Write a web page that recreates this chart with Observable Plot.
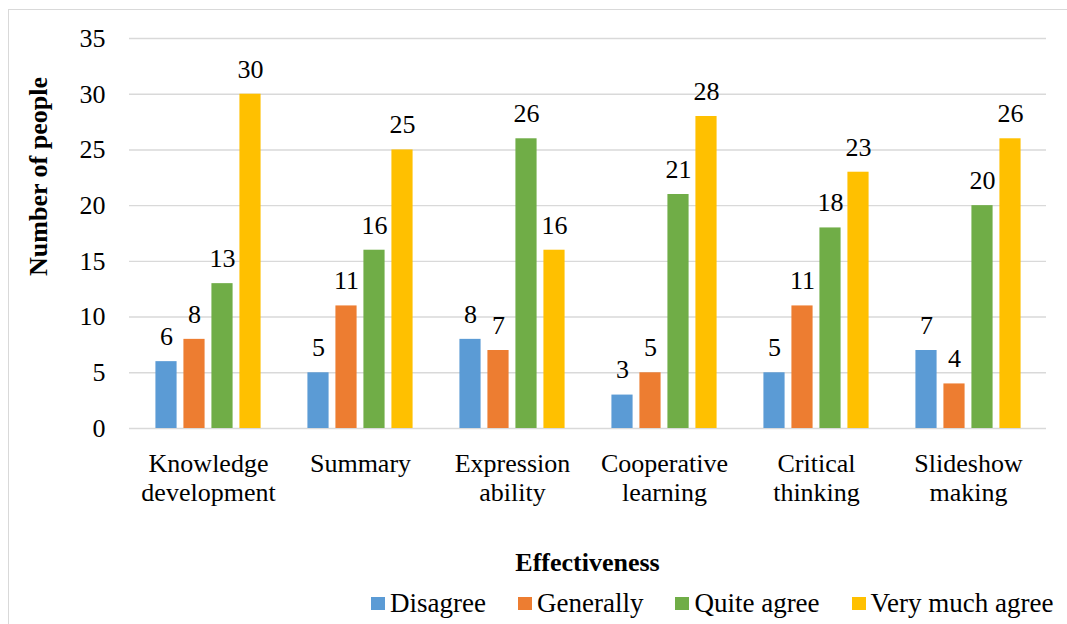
<!DOCTYPE html>
<html>
<head>
<meta charset="utf-8">
<script src="https://cdn.jsdelivr.net/npm/d3@7"></script>
<script src="https://cdn.jsdelivr.net/npm/@observablehq/plot@0.6"></script>
<style>
  body { margin: 0; padding: 0; background: #fff; width: 1067px; height: 624px; position: relative; color: #000; font-family: "Times New Roman", "Liberation Serif", serif; }
  #frame { position: absolute; left: 8px; top: 9px; width: 1070px; height: 620px; border-top: 1.5px solid #d9d9d9; border-left: 1.5px solid #d9d9d9; box-sizing: border-box; }
  #chart { position: absolute; left: 0; top: 0; }
  #xtitle { position: absolute; left: 129px; width: 917px; top: 550px; text-align: center; font-weight: bold; font-size: 26px; line-height: 26px; }
  #legend { position: absolute; left: 371px; top: 590px; display: flex; align-items: center; gap: 32px; font-size: 27px; line-height: 26px; white-space: nowrap; }
  .item { display: flex; align-items: center; gap: 5px; }
  .sw { width: 14px; height: 13px; display: inline-block; }
</style>
</head>
<body>
<div id="frame"></div>
<div id="chart"></div>
<div id="xtitle"></div>
<div id="legend"></div>
<script>
// ---- data ----
const categories = ["Knowledge\ndevelopment", "Summary", "Expression\nability", "Cooperative\nlearning", "Critical\nthinking", "Slideshow\nmaking"];
const seriesNames = ["Disagree", "Generally", "Quite agree", "Very much agree"];
const disagree = [6, 5, 8, 3, 5, 7];
const generally = [8, 11, 7, 5, 11, 4];
const quiteAgree = [13, 16, 26, 21, 18, 20];
const veryMuchAgree = [30, 25, 16, 28, 23, 26];
const yTicks = [0, 5, 10, 15, 20, 25, 30, 35];
const colors = ["#5B9BD5", "#ED7D31", "#70AD47", "#FFC000"];
const xTitle = "Effectiveness";
const yTitle = "Number of people";

// ---- layout ----
const W = 1067, H = 515;
const mL = 129, mR = 21, mT = 38, mB = 87;
const bw = (W - mL - mR) / categories.length;
const barW = 22;
const offsets = [-42, -14, 14, 42];
const font = "Times New Roman, Liberation Serif, serif";

const seriesValues = [disagree, generally, quiteAgree, veryMuchAgree];
const rows = seriesValues.map(vals => categories.map((c, i) => ({cat: c, value: vals[i]})));

const marks = [
  Plot.ruleY(yTicks, {stroke: "#d9d9d9", strokeWidth: 1.4}),
  Plot.axisY({ticks: yTicks, tickSize: 0, tickPadding: 24, fontSize: 26, fontFamily: font, label: null, fill: "#000"}),
  Plot.axisX({tickSize: 0, tickPadding: 23, fontSize: 26, fontFamily: font, label: null, lineHeight: 1.115, fill: "#000"}),
];
rows.forEach((data, s) => {
  const off = offsets[s];
  marks.push(Plot.barY(data, {
    x: "cat", y: "value", fill: colors[s],
    insetLeft: bw / 2 + off - barW / 2,
    insetRight: bw / 2 - off - barW / 2
  }));
  marks.push(Plot.text(data, {
    x: "cat", y: "value", text: d => String(d.value),
    dx: off, dy: -25, fontSize: 26, fontFamily: font, fill: "#000"
  }));
});
marks.push(Plot.text([yTitle], {
  frameAnchor: "left", text: d => d, rotate: -90, textAnchor: "middle",
  dx: -90.5, dy: -57, fontSize: 26, fontWeight: "bold", fontFamily: font, fill: "#000"
}));

const chart = Plot.plot({
  width: W, height: H,
  marginLeft: mL, marginRight: mR, marginTop: mT, marginBottom: mB,
  style: {fontFamily: font, background: "transparent", overflow: "visible"},
  x: {domain: categories, padding: 0, label: null},
  y: {domain: [0, 35], label: null},
  marks
});
document.getElementById("chart").appendChild(chart);

document.getElementById("xtitle").textContent = xTitle;
const legend = document.getElementById("legend");
seriesNames.forEach((name, i) => {
  const it = document.createElement("div");
  it.className = "item";
  const sw = document.createElement("span");
  sw.className = "sw";
  sw.style.background = colors[i];
  const t = document.createElement("span");
  t.textContent = name;
  it.appendChild(sw);
  it.appendChild(t);
  legend.appendChild(it);
});
</script>
</body>
</html>
